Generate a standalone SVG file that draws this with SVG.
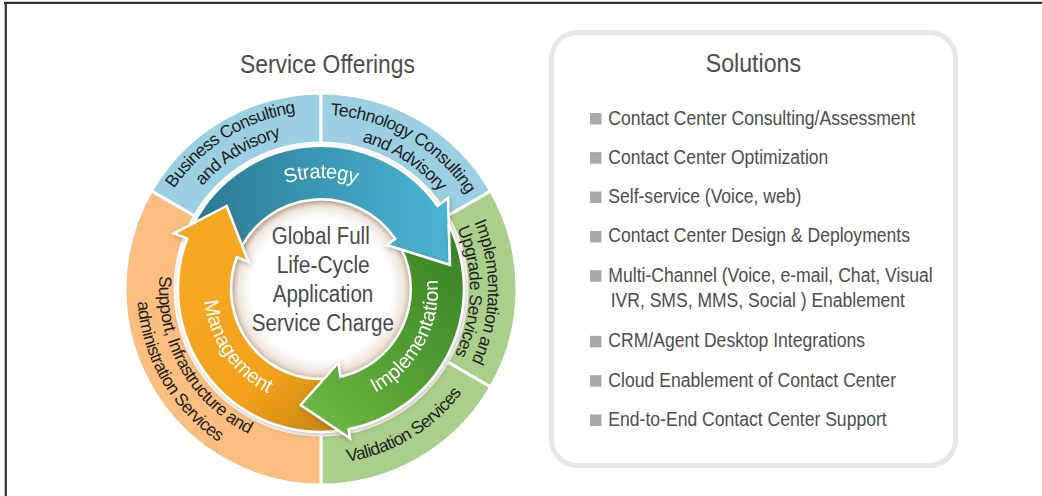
<svg xmlns="http://www.w3.org/2000/svg" xmlns:xlink="http://www.w3.org/1999/xlink" width="1042" height="496" viewBox="0 0 1042 496">
<style>
.ring{stroke:#fff;stroke-width:3;stroke-linejoin:round}
.rtext{font-family:'Liberation Sans',Arial,sans-serif;font-size:17.5px;letter-spacing:-0.6px;fill:#1f1f1f}
.atext{font-family:'Liberation Sans',Arial,sans-serif;font-size:20px;fill:#fff}
.arrow{stroke:#fff;stroke-width:2.5;stroke-linejoin:miter}
.ctext{font-family:'Liberation Sans Narrow','Liberation Sans',Arial,sans-serif;font-size:23px;fill:#4a4a4a}
.title{font-family:'Liberation Sans Narrow','Liberation Sans',Arial,sans-serif;font-size:26.5px;fill:#4d4d4d}
.item{font-family:'Liberation Sans Narrow','Liberation Sans',Arial,sans-serif;font-size:19.5px;fill:#4d4d4d}
.bullet{fill:#a7a9ac}
</style>
<defs>
<linearGradient id="gBlue" gradientUnits="userSpaceOnUse" x1="190" y1="220" x2="450" y2="220">
<stop offset="0" stop-color="#2a7890"/><stop offset="0.5" stop-color="#3a98b5"/><stop offset="1" stop-color="#4db4d3"/>
</linearGradient>
<linearGradient id="gOrange" gradientUnits="userSpaceOnUse" x1="200" y1="260" x2="345" y2="425">
<stop offset="0" stop-color="#f6a822"/><stop offset="0.6" stop-color="#f2a11c"/><stop offset="1" stop-color="#c48512"/>
</linearGradient>
<linearGradient id="gGreen" gradientUnits="userSpaceOnUse" x1="460" y1="260" x2="310" y2="420">
<stop offset="0" stop-color="#3b8629"/><stop offset="0.55" stop-color="#55a033"/><stop offset="1" stop-color="#6db742"/>
</linearGradient>
<radialGradient id="gDisc" cx="0.5" cy="0.5" r="0.5">
<stop offset="0" stop-color="#ffffff"/><stop offset="0.78" stop-color="#ffffff"/><stop offset="0.92" stop-color="#f0e7de"/><stop offset="1" stop-color="#d6c3b0"/>
</radialGradient>
<filter id="shadow" x="-20%" y="-20%" width="140%" height="140%">
<feDropShadow dx="1" dy="2" stdDeviation="2.5" flood-color="#5a3f28" flood-opacity="0.35"/>
</filter>
<path id="pBiz1" d="M147.56,248.96 A178,178 0 0 1 361.04,115.56"/>
<path id="pBiz2" d="M168.02,253.68 A157,157 0 0 1 356.32,136.02"/>
<path id="pTech1" d="M275.97,120.93 A174,174 0 0 1 489.07,243.97"/>
<path id="pTech2" d="M289.19,139.34 A153,153 0 0 1 470.66,257.19"/>
<path id="pImpl1" d="M441.13,172.99 A167,167 0 0 1 437.01,409.13"/>
<path id="pImpl2" d="M428.18,185.5 A149,149 0 0 1 424.5,396.18"/>
<path id="pVal" d="M278.96,458.87 A176,176 0 0 0 490.87,331.04"/>
<path id="pSup1" d="M165.04,245.17 A162,162 0 0 0 277.17,444.96"/>
<path id="pSup2" d="M143.27,241.38 A184,184 0 0 0 273.38,466.73"/>
<path id="pStrat" d="M224.87,233.5 A111,111 0 0 1 417.13,233.5"/>
<path id="pImp" d="M353.25,401.47 A117,117 0 0 0 433.47,256.75"/>
<path id="pMgmt" d="M205.96,267.68 A117,117 0 0 0 299.68,404.04"/>
</defs>

<g id="frame" fill="none" stroke="#333" stroke-width="2.2">
<line x1="4" y1="2.8" x2="1042" y2="2.8"/>
<line x1="5.8" y1="2" x2="5.8" y2="496"/>
</g>

<text id="title-offerings" class="title" x="240" y="72.7" textLength="175" lengthAdjust="spacingAndGlyphs">Service Offerings</text>

<g id="outer-ring">
<g id="business-consulting">
<path class="ring" fill="#9ccfe2" d="M151.26,191 A196,196 0 0 1 321,93 L321,143 A146,146 0 0 0 194.56,216 Z"/>
<text class="rtext"><textPath href="#pBiz1" startOffset="50%" text-anchor="middle">Business Consulting</textPath></text>
<text class="rtext"><textPath href="#pBiz2" startOffset="50%" text-anchor="middle">and Advisory</textPath></text>
</g>
<g id="technology-consulting">
<path class="ring" fill="#9ccfe2" d="M321,93 A196,196 0 0 1 490.74,191 L447.44,216 A146,146 0 0 0 321,143 Z"/>
<text class="rtext"><textPath href="#pTech1" startOffset="50%" text-anchor="middle">Technology Consulting</textPath></text>
<text class="rtext"><textPath href="#pTech2" startOffset="50%" text-anchor="middle">and Advisory</textPath></text>
</g>
<g id="implementation-upgrade">
<path class="ring" fill="#a9cf8a" d="M490.74,191 A196,196 0 0 1 490.74,387 L447.44,362 A146,146 0 0 0 447.44,216 Z"/>
<text class="rtext"><textPath href="#pImpl1" startOffset="50%" text-anchor="middle">Implementation and</textPath></text>
<text class="rtext"><textPath href="#pImpl2" startOffset="50%" text-anchor="middle">Upgrade Services</textPath></text>
</g>
<g id="validation-services">
<path class="ring" fill="#a9cf8a" d="M490.74,387 A196,196 0 0 1 321,485 L321,435 A146,146 0 0 0 447.44,362 Z"/>
<text class="rtext"><textPath href="#pVal" startOffset="50%" text-anchor="middle">Validation Services</textPath></text>
</g>
<g id="support-services">
<path class="ring" fill="#f9be80" d="M321,485 A196,196 0 0 1 151.26,191 L194.56,216 A146,146 0 0 0 321,435 Z"/>
<text class="rtext"><textPath href="#pSup1" startOffset="50%" text-anchor="middle">Support, Infrastructure and</textPath></text>
<text class="rtext"><textPath href="#pSup2" startOffset="50%" text-anchor="middle">administration Services</textPath></text>
</g>
</g>

<g id="center">
<circle cx="321" cy="289" r="90" fill="url(#gDisc)"/>
<text class="ctext" x="271.7" y="244" textLength="98" lengthAdjust="spacingAndGlyphs">Global Full</text>
<text class="ctext" x="276.7" y="272.5" textLength="93" lengthAdjust="spacingAndGlyphs">Life-Cycle</text>
<text class="ctext" x="272.7" y="301.5" textLength="100.6" lengthAdjust="spacingAndGlyphs">Application</text>
<text class="ctext" x="251.7" y="330.5" textLength="142.3" lengthAdjust="spacingAndGlyphs">Service Charge</text>
</g>

<g id="connectors">
<g id="strategy" filter="url(#shadow)">
<path class="arrow" fill="url(#gBlue)" d="M190.36,230.84 A143,143 0 0 1 437.6,206 L448,198 L450,265 L387,245 L395.2,238.7 A90,90 0 0 0 238.78,252.39 Z"/>
<text class="atext" letter-spacing="-0.4"><textPath href="#pStrat" startOffset="50%" text-anchor="middle">Strategy</textPath></text>
</g>
<g id="management" filter="url(#shadow)">
<path class="arrow" fill="url(#gOrange)" d="M343.37,430.24 A143,143 0 0 1 187.2,238.4 L174,233.3 L226.7,206 L248.3,261.7 L236.8,257.3 A90,90 0 0 0 335.08,377.89 Z"/>
<text class="atext"><textPath href="#pMgmt" startOffset="50%" text-anchor="middle">Management</textPath></text>
</g>
<g id="implementation" filter="url(#shadow)">
<path class="arrow" fill="url(#gGreen)" d="M448.8,224.8 A143,143 0 0 1 348.6,429.2 L350,438.3 L300.7,405 L338.3,362.7 L340.5,376.8 A90,90 0 0 0 401.8,249.7 L450,265 Z"/>
<text class="atext"><textPath href="#pImp" startOffset="50%" text-anchor="middle">Implementation</textPath></text>
</g>
</g>

<g id="solutions">
<rect x="551.5" y="32.5" width="404" height="433" rx="26" ry="26" fill="#fff" stroke="#e6e7e8" stroke-width="5"/>
<text class="title" x="705.7" y="71.7" textLength="95.3" lengthAdjust="spacingAndGlyphs">Solutions</text>
<g id="sol-1"><rect class="bullet" x="590" y="113" width="11.5" height="11.5"/><text class="item" x="608.3" y="124.5" textLength="307" lengthAdjust="spacingAndGlyphs">Contact Center Consulting/Assessment</text></g>
<g id="sol-2"><rect class="bullet" x="590" y="152.2" width="11.5" height="11.5"/><text class="item" x="608.3" y="163.7" textLength="220" lengthAdjust="spacingAndGlyphs">Contact Center Optimization</text></g>
<g id="sol-3"><rect class="bullet" x="590" y="191.5" width="11.5" height="11.5"/><text class="item" x="608.3" y="203" textLength="193" lengthAdjust="spacingAndGlyphs">Self-service (Voice, web)</text></g>
<g id="sol-4"><rect class="bullet" x="590" y="230.9" width="11.5" height="11.5"/><text class="item" x="608.3" y="242.4" textLength="301.7" lengthAdjust="spacingAndGlyphs">Contact Center Design &amp; Deployments</text></g>
<g id="sol-5"><rect class="bullet" x="590" y="270.2" width="11.5" height="11.5"/><text class="item" x="608.3" y="281.7" textLength="324.4" lengthAdjust="spacingAndGlyphs">Multi-Channel (Voice, e-mail, Chat, Visual</text><text class="item" x="610.7" y="306.7" textLength="294.3" lengthAdjust="spacingAndGlyphs">IVR, SMS, MMS, Social ) Enablement</text></g>
<g id="sol-6"><rect class="bullet" x="590" y="335.8" width="11.5" height="11.5"/><text class="item" x="608.3" y="347.3" textLength="256.7" lengthAdjust="spacingAndGlyphs">CRM/Agent Desktop Integrations</text></g>
<g id="sol-7"><rect class="bullet" x="590" y="375.2" width="11.5" height="11.5"/><text class="item" x="608.3" y="386.7" textLength="287.7" lengthAdjust="spacingAndGlyphs">Cloud Enablement of Contact Center</text></g>
<g id="sol-8"><rect class="bullet" x="590" y="414.5" width="11.5" height="11.5"/><text class="item" x="608.3" y="426" textLength="278.4" lengthAdjust="spacingAndGlyphs">End-to-End Contact Center Support</text></g>
</g>
</svg>
